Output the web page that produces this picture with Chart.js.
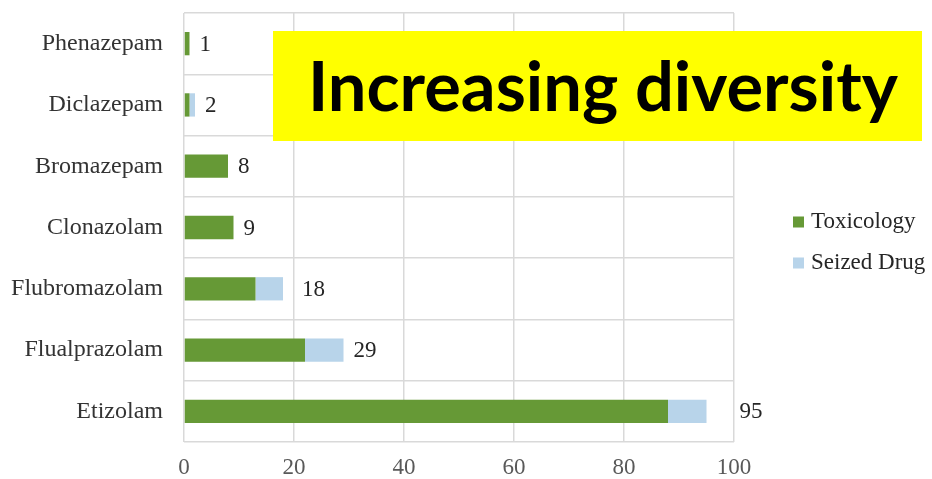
<!DOCTYPE html>
<html>
<head>
<meta charset="utf-8">
<script src="https://cdn.jsdelivr.net/npm/chart.js@4.4.1/dist/chart.umd.min.js"></script>
<style>
    html, body { margin: 0; padding: 0; background: #fff; }
    #wrap { width: 932px; height: 479px; position: relative; }
</style>
</head>
<body>
<div id="wrap"><canvas id="benzoChart"></canvas></div>
<script>
// data
const drugs = ['Etizolam', 'Flualprazolam', 'Flubromazolam', 'Clonazolam', 'Bromazepam', 'Diclazepam', 'Phenazepam'];
const toxicology = [88, 22, 13, 9, 8, 1, 1];
const seizedDrug = [7, 7, 5, 0, 0, 1, 0];
const xTicks = [0, 20, 40, 60, 80, 100];
const headline = 'Increasing diversity';

const SERIF = "'Liberation Serif', 'DejaVu Serif', serif";
const GREEN = '#669936';
const BLUE = '#b8d4ea';
const GRID = '#d9d9d9';

// totals printed after each bar
const totalLabels = {
    id: 'totalLabels',
    afterDatasetsDraw(chart, args, opts) {
        const ctx = chart.ctx;
        const x = chart.scales.x;
        const meta = chart.getDatasetMeta(0);
        ctx.save();
        ctx.font = '23px ' + SERIF;
        ctx.fillStyle = '#262626';
        ctx.textAlign = 'left';
        ctx.textBaseline = 'middle';
        drugs.forEach((d, i) => {
            const total = toxicology[i] + seizedDrug[i];
            const nudge = (opts.nudge && opts.nudge[d]) || 0;
            ctx.fillText(String(total), x.getPixelForValue(total) + 10 + nudge, meta.data[i].y + 1);
        });
        ctx.restore();
    }
};

// legend on the right, drawn by hand so it can sit away from the plot
const sideLegend = {
    id: 'sideLegend',
    afterDraw(chart, args, opts) {
        const ctx = chart.ctx;
        const area = chart.chartArea;
        const midY = (area.top + area.bottom) / 2;
        ctx.save();
        ctx.font = '23px ' + SERIF;
        ctx.textBaseline = 'middle';
        chart.data.datasets.forEach((ds, i) => {
            const y = midY - 6 + i * 41;
            ctx.fillStyle = ds.backgroundColor;
            ctx.fillRect(area.right + opts.gap, y - 5, 11, 11);
            ctx.fillStyle = '#262626';
            ctx.fillText(ds.label, area.right + opts.gap + 18, y);
        });
        ctx.restore();
    }
};

// yellow banner over the top of the plot
const banner = {
    id: 'banner',
    afterDraw(chart, args, opts) {
        const ctx = chart.ctx;
        ctx.save();
        ctx.fillStyle = '#ffff00';
        ctx.fillRect(opts.left, opts.top, opts.width, opts.height);
        let size = 60;
        ctx.font = 'bold ' + size + 'px Lato, "Open Sans", sans-serif';
        const w = ctx.measureText(headline).width;
        size = size * opts.textWidth / w;
        ctx.font = 'bold ' + size + 'px Lato, "Open Sans", sans-serif';
        ctx.fillStyle = '#000';
        ctx.textBaseline = 'alphabetic';
        ctx.fillText(headline, opts.left + 35, opts.top + 80);
        ctx.restore();
    }
};

const ctx = document.getElementById('benzoChart').getContext('2d');
new Chart(ctx, {
    type: 'bar',
    data: {
        labels: drugs,
        datasets: [
            { label: 'Toxicology', data: toxicology, backgroundColor: GREEN, borderWidth: 0 },
            { label: 'Seized Drug', data: seizedDrug, backgroundColor: BLUE, borderWidth: 0 }
        ]
    },
    options: {
        indexAxis: 'y',
        responsive: true,
        maintainAspectRatio: false,
        animation: false,
        layout: { padding: { top: 13, right: 198, left: 0, bottom: 0 } },
        datasets: { bar: { categoryPercentage: 1, barPercentage: 0.38 } },
        scales: {
            x: {
                stacked: true,
                min: 0,
                max: 100,
                afterBuildTicks: s => { s.ticks = xTicks.map(v => ({ value: v })); },
                afterFit: s => { s.height = 37; s.paddingLeft = 0; s.paddingRight = 0; },
                grid: { color: GRID, lineWidth: 1.5, drawTicks: false },
                border: { display: false },
                ticks: { color: '#595959', padding: 12, font: { family: SERIF, size: 23 } }
            },
            y: {
                stacked: true,
                reverse: true,
                afterFit: s => { s.width = 184; s.paddingTop = 0; s.paddingBottom = 0; },
                grid: { color: GRID, lineWidth: 1.5, drawTicks: false, offset: true },
                border: { display: false },
                ticks: { color: '#333', padding: 21, font: { family: SERIF, size: 24 } }
            }
        },
        plugins: {
            legend: { display: false },
            tooltip: { enabled: false },
            totalLabels: { nudge: { Flubromazolam: 9, Etizolam: 23 } },
            sideLegend: { gap: 59 },
            banner: { left: 273, top: 31, width: 649, height: 110, textWidth: 590 }
        }
    },
    plugins: [totalLabels, sideLegend, banner]
});
</script>
</body>
</html>
